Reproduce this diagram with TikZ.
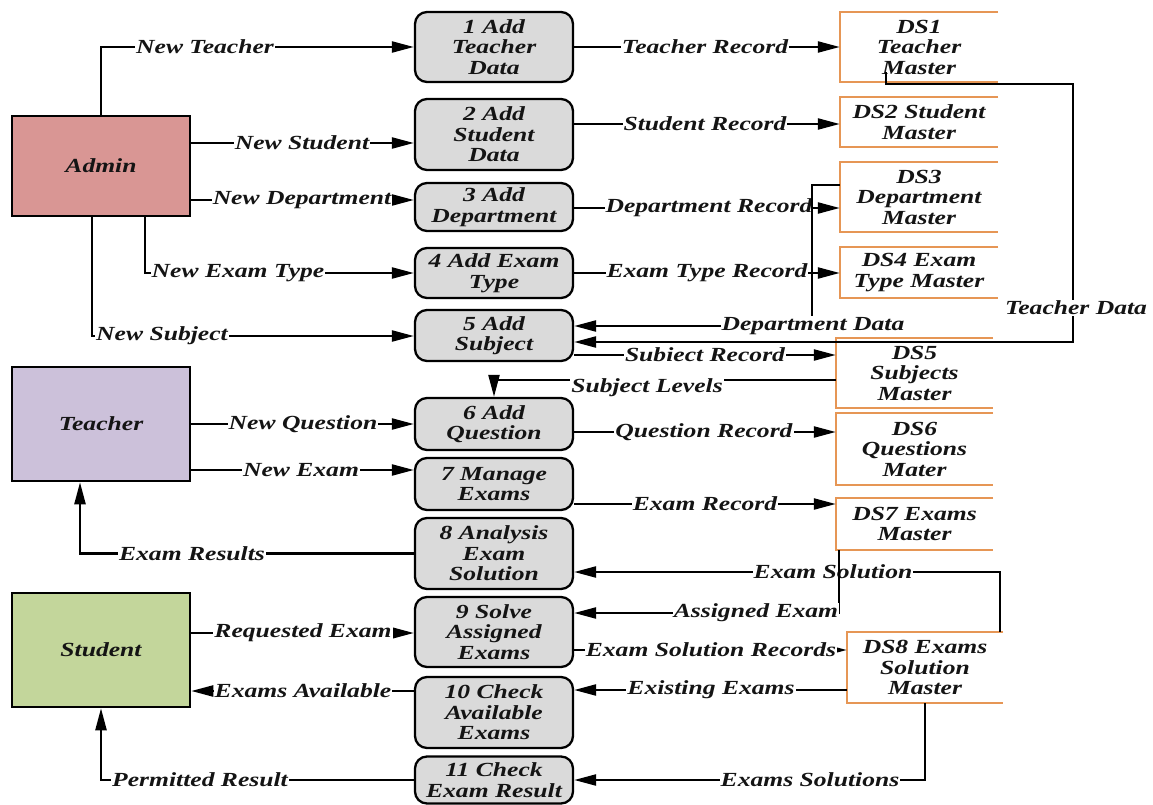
\documentclass[tikz,border=0pt]{standalone}
\usepackage{fontspec}
\setmainfont{Liberation Serif}[FakeStretch=1.28]
\usetikzlibrary{arrows.meta}
\definecolor{adminC}{RGB}{217,150,148}
\definecolor{teacherC}{RGB}{204,193,218}
\definecolor{studentC}{RGB}{195,214,155}
\definecolor{procC}{RGB}{218,218,218}
\definecolor{dsC}{RGB}{230,150,85}
\definecolor{txtC}{RGB}{20,20,20}
\begin{document}
\begin{tikzpicture}[x=1pt,y=-1pt,
  every node/.style={font=\fontsize{20}{20.5}\selectfont\bfseries\itshape, text=txtC},
  entity/.style={draw, line width=2.5pt, align=center, inner sep=0pt, minimum width=178pt},
  proc/.style={draw, line width=2.3pt, rounded corners=12pt, fill=procC, minimum width=158pt, align=center, inner sep=0pt},
  store/.style={minimum width=158pt, align=center, inner sep=0pt},
  dsline/.style={draw=dsC, line width=2pt},
  flow/.style={line width=2.3pt, -{Triangle[length=22pt,width=11pt]}},
  lbl/.style={fill=white, inner sep=1pt}
]
\useasboundingbox[fill=white] (0,0) rectangle (1153,805);

% external entities
\node[entity, fill=adminC, minimum height=100pt] (Admin) at (101,166) {Admin};
\node[entity, fill=teacherC, minimum height=114pt] (Teacher) at (101,424) {Teacher};
\node[entity, fill=studentC, minimum height=114pt] (Student) at (101,650) {Student};

% processes
\node[proc, minimum height=70pt] (P1) at (494,47) {1 Add\\Teacher\\Data};
\node[proc, minimum height=71pt] (P2) at (494,134.5) {2 Add\\Student\\Data};
\node[proc, minimum height=48pt] (P3) at (494,207) {3 Add\\Department};
\node[proc, minimum height=50pt] (P4) at (494,273) {4 Add Exam\\Type};
\node[proc, minimum height=51pt] (P5) at (494,335.5) {5 Add\\Subject};
\node[proc, minimum height=52pt] (P6) at (494,424) {6 Add\\Question};
\node[proc, minimum height=52pt] (P7) at (494,484) {7 Manage\\Exams};
\node[proc, minimum height=71pt] (P8) at (494,553.5) {8 Analysis\\Exam\\Solution};
\node[proc, minimum height=70pt] (P9) at (494,632) {9 Solve\\Assigned\\Exams};
\node[proc, minimum height=71pt] (P10) at (494,712.5) {10 Check\\Available\\Exams};
\node[proc, minimum height=47pt] (P11) at (494,780) {11 Check\\Exam Result};

% data stores
\node[store, minimum height=70pt] (D1) at (919,47) {DS1\\Teacher\\Master};
\node[store, minimum height=50pt] (D2) at (919,122) {DS2 Student\\Master};
\node[store, minimum height=70pt] (D3) at (919,197) {DS3\\Department\\Master};
\node[store, minimum height=51pt] (D4) at (919,272.5) {DS4 Exam\\Type Master};
\node[store, minimum width=157pt, minimum height=70pt] (D5) at (914.5,373) {DS5\\Subjects\\Master};
\node[store, minimum width=157pt, minimum height=72pt] (D6) at (914.5,449) {DS6\\Questions\\Mater};
\node[store, minimum width=157pt, minimum height=52pt] (D7) at (914.5,524) {DS7 Exams\\Master};
\node[store, minimum width=156pt, minimum height=71pt] (D8) at (925,667.5) {DS8 Exams\\Solution\\Master};
\foreach \d in {D1,D2,D3,D4,D5,D6,D7,D8}
  \draw[dsline] (\d.north east) -- (\d.north west) -- (\d.south west) -- (\d.south east);

% helper levels
\coordinate (h2) at (0,143);
\coordinate (h3) at (0,200);
\coordinate (v4) at (145,0);
\coordinate (v5) at (92,0);
\coordinate (h5) at (0,336);
\coordinate (h7) at (0,470);
\coordinate (v8) at (80,0);
\coordinate (h9) at (0,633);
\coordinate (h10) at (0,691);
\coordinate (h13) at (0,124);
\coordinate (h14) at (0,208);
\coordinate (h16) at (0,185);
\coordinate (k16) at (812,326);
\coordinate (v17) at (886,72);
\coordinate (k17) at (1073,84);
\coordinate (h17) at (0,342);
\coordinate (h18) at (0,355);
\coordinate (h19) at (0,380);
\coordinate (h20) at (0,432);
\coordinate (h21) at (0,504);
\coordinate (v22) at (839,0);
\coordinate (h22) at (0,613);
\coordinate (v23) at (1000,0);
\coordinate (h23) at (0,572);
\coordinate (h24) at (0,650);
\coordinate (h25) at (0,690);

% admin flows
\draw[flow] (Admin.north) |- (P1.west);
\node[lbl] (L1) at (205,47) {New Teacher};
\draw[flow] (Admin.east |- h2) -- (P2.west |- h2);
\node[lbl] (L2) at (302,143) {New Student};
\draw[flow] (Admin.east |- h3) -- (P3.west |- h3);
\node[lbl] (L3) at (302,200) {New Department};
\draw[flow] (Admin.south -| v4) |- (P4.west);
\node[lbl] (L4) at (238,273) {New Exam Type};
\draw[flow] (Admin.south -| v5) |- (P5.west |- h5);
\node[lbl] (L5) at (162,336) {New Subject};

% teacher flows
\draw[flow] (Teacher.east) -- (P6.west);
\node[lbl] (L6) at (303,424) {New Question};
\draw[flow] (Teacher.east |- h7) -- (P7.west |- h7);
\node[lbl] (L7) at (301,470) {New Exam};
\draw[flow] (P8.west) -| (Teacher.south -| v8);
\node[lbl] (L8) at (192,554) {Exam Results};

% student flows
\draw[flow] (Student.east |- h9) -- (P9.west |- h9);
\node[lbl] (L9) at (303,633) {Requested Exam};
\draw[flow] (P10.west |- h10) -- (Student.east |- h10);
\node[lbl] (L10) at (303,691) {Exams Available};
\draw[flow] (P11.west) -| (Student.south);
\node[lbl] (L11) at (200,780) {Permitted Result};

% process to store flows
\draw[flow] (P1.east) -- (D1.west);
\node[lbl] (L12) at (705,47) {Teacher Record};
\draw[flow] (P2.east |- h13) -- (D2.west |- h13);
\node[lbl] (L13) at (705,124) {Student Record};
\draw[flow] (P3.east |- h14) -- (D3.west |- h14);
\node[lbl] (L14) at (709,208) {Department Record};
\draw[flow] (P4.east) -- (D4.west |- P4.east);
\node[lbl] (L15) at (707,273) {Exam Type Record};
\draw[flow] (D3.west |- h16) -| (k16) -- (P5.east |- k16);
\node[lbl] (L16) at (813,326) {Department Data};
\draw[flow] (v17) |- (k17) |- (P5.east |- h17);
\node[lbl] (L17) at (1076,308) {Teacher Data};
\draw[flow] (P5.east |- h18) -- (D5.west |- h18);
\node[lbl] (L18) at (705,355) {Subiect Record};
\draw[flow] (D5.west |- h19) -| (P6.north);
\node[lbl] (L19) at (647,388) {Subject Levels};
\draw[flow] (P6.east |- h20) -- (D6.west |- h20);
\node[lbl] (L20) at (704,432) {Question Record};
\draw[flow] (P7.east |- h21) -- (D7.west |- h21);
\node[lbl] (L21) at (705,504) {Exam Record};
\draw[flow] (D8.north -| v23) |- (P8.east |- h23);
\node[lbl] (L23) at (833,572) {Exam Solution};
\draw[flow] (D7.south -| v22) |- (P9.east |- h22);
\node[lbl] (L22) at (756,613) {Assigned Exam};
\draw[flow] (P9.east |- h24) -- (D8.west |- h24);
\node[lbl] (L24) at (711,650) {Exam Solution Records};
\draw[flow] (D8.west |- h25) -- (P10.east |- h25);
\node[lbl] (L25) at (711,690) {Existing Exams};
\draw[flow] (D8.south) |- (P11.east);
\node[lbl] (L26) at (810,780) {Exams Solutions};
\end{tikzpicture}
\end{document}
